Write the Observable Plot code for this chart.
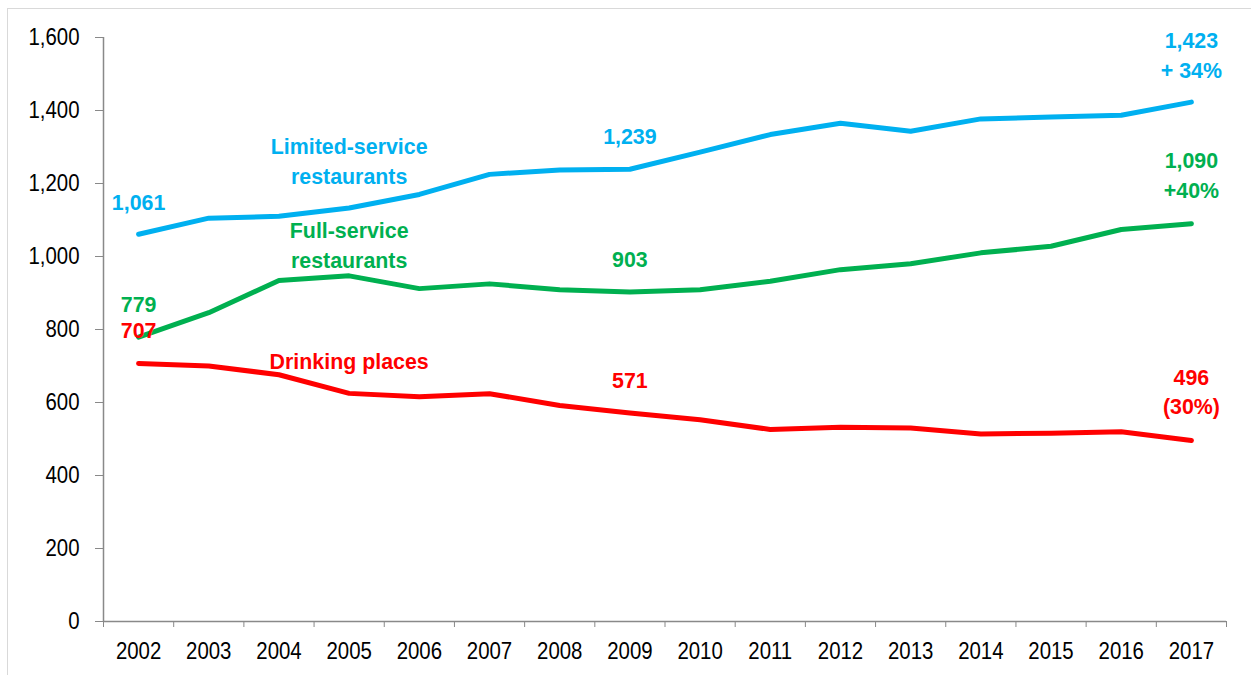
<!DOCTYPE html>
<html><head><meta charset="utf-8">
<script src="https://cdn.jsdelivr.net/npm/d3@7"></script>
<script src="https://cdn.jsdelivr.net/npm/@observablehq/plot@0.6"></script>
<style>
html,body{margin:0;padding:0;background:#fff;overflow:hidden;}
#wrap{position:relative;width:1251px;height:675px;overflow:hidden;}
#frame{position:absolute;left:7px;top:8px;width:1400px;height:800px;border:1px solid #d9d9d9;}
#chart{position:absolute;left:0;top:0;}
</style></head><body>
<div id="wrap"><div id="frame"></div><div id="chart"></div></div>
<script>
const years = [2002,2003,2004,2005,2006,2007,2008,2009,2010,2011,2012,2013,2014,2015,2016,2017];
const limitedService = [1061,1105,1110,1133,1170,1225,1237,1239,1286,1334,1365,1343,1377,1382,1387,1423];
const fullService    = [779,846,934,947,912,925,909,903,909,932,964,980,1010,1028,1074,1090];
const drinkingPlaces = [707,700,676,625,616,624,592,571,553,526,532,530,514,516,520,496];
const seriesNames = ["Limited-service restaurants","Full-service restaurants","Drinking places"];
const seriesColors = ["#00B0F0","#00B050","#FF0000"];
const yTicks = [0,200,400,600,800,1000,1200,1400,1600];

// annotations: series index, year, text
const valueLabels = [
  {s:0, year:2002, text:"1,061", dy:-24},
  {s:1, year:2002, text:"779", dy:-25},
  {s:2, year:2002, text:"707", dy:-25},
  {s:0, year:2009, text:"1,239", dy:-25},
  {s:1, year:2009, text:"903", dy:-25},
  {s:2, year:2009, text:"571", dy:-25},
  {s:0, year:2017, text:"1,423\n+ 34%", dy:-24},
  {s:1, year:2017, text:"1,090\n+40%", dy:-26},
  {s:2, year:2017, text:"496\n(30%)", dy:-26}
];
const nameLabels = [
  {s:0, year:2005, text:"Limited-service\nrestaurants", dy:-24},
  {s:1, year:2005, text:"Full-service\nrestaurants", dy:-8},
  {s:2, year:2005, text:"Drinking places", dy:-24}
];

const seriesValues = [limitedService, fullService, drinkingPlaces];
const data = [];
seriesValues.forEach((vals, s) => years.forEach((yr, i) => data.push({series: seriesNames[s], year: yr, value: vals[i]})));
const valueAt = (s, yr) => seriesValues[s][years.indexOf(yr)];
const bounds = years.map(y => y - 0.5).concat([years[years.length-1] + 0.5]);

const FONT = '"Liberation Sans",Arial,sans-serif';
const axisColor = "#898989";

const labelMarks = [...valueLabels, ...nameLabels].map(l =>
  Plot.text([{year: l.year, value: valueAt(l.s, l.year), series: seriesNames[l.s], text: l.text}], {
    x: "year", y: "value", text: "text", fill: "series",
    lineAnchor: "bottom", dy: l.dy, lineHeight: 1.3,
    fontWeight: "bold", fontSize: 23, textAnchor: "middle", className: "annot"
  })
);

const chart = Plot.plot({
  width: 1251, height: 675,
  marginLeft: 103, marginRight: 25, marginTop: 37, marginBottom: 54,
  style: {fontFamily: FONT, fontSize: "24px", background: "transparent", overflow: "visible"},
  x: {type: "linear", domain: [bounds[0], bounds[bounds.length-1]]},
  y: {domain: [0, 1600]},
  color: {domain: seriesNames, range: seriesColors},
  marks: [
    Plot.axisY({ticks: yTicks, tickFormat: d3.format(","), tickSize: 8, tickPadding: 16, stroke: axisColor, fill: "#000", fontSize: 24, label: null}),
    Plot.axisX({ticks: bounds, tickSize: 6, tickFormat: () => "", stroke: axisColor, label: null}),
    Plot.axisX({ticks: years, tickSize: 0, tickPadding: 20, tickFormat: d => String(d), fill: "#000", fontSize: 24, label: null}),
    Plot.ruleX([bounds[0]], {y1: 0, y2: 1600, stroke: axisColor, strokeWidth: 1.5}),
    Plot.ruleY([0], {x1: bounds[0], x2: bounds[bounds.length-1], stroke: axisColor, strokeWidth: 1.5}),
    Plot.lineY(data, {x: "year", y: "value", z: "series", stroke: "series", strokeWidth: 5, strokeLinecap: "round", strokeLinejoin: "round"}),
    ...labelMarks
  ]
});
document.getElementById("chart").appendChild(chart);

// emulate the condensed typeface of the original by narrowing text around its anchor
function narrow(sel, k) {
  chart.querySelectorAll(sel).forEach(t => {
    const tr = t.getAttribute("transform") || "";
    t.setAttribute("transform", (tr + ` scale(${k},1)`).trim());
  });
}
narrow(".annot text", 0.93);
narrow("g[aria-label$='tick label'] text", 0.85);
</script>
</body></html>
